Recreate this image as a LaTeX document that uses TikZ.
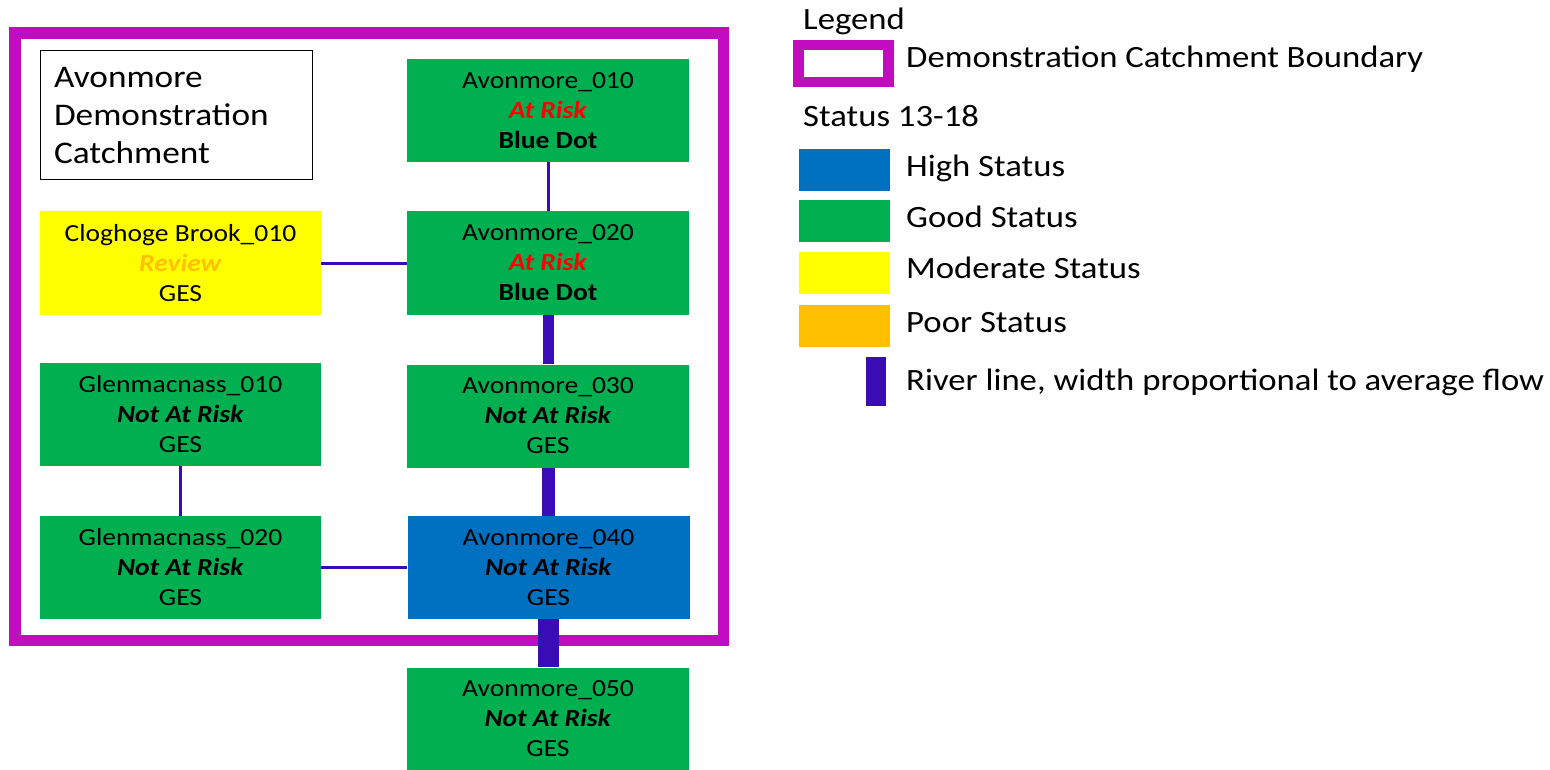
\documentclass[tikz,border=0pt]{standalone}
\usepackage{fontspec}
\setmainfont{Carlito}[FakeStretch=1.12]
\definecolor{mag}{RGB}{194,12,194}
\definecolor{river}{RGB}{58,12,182}
\definecolor{good}{RGB}{0,176,80}
\definecolor{high}{RGB}{0,112,192}
\definecolor{moderate}{RGB}{255,255,0}
\definecolor{poor}{RGB}{255,192,0}
\definecolor{atrisk}{RGB}{255,0,0}
\newcommand{\atrisk}{\textcolor{atrisk}{\textbf{\textit{At Risk}}}}
\newcommand{\notatrisk}{\textbf{\textit{Not At Risk}}}
\begin{document}
\begin{tikzpicture}[x=1pt,y=-1pt,
  wb/.style={minimum width=282pt, minimum height=103pt, inner sep=0pt, align=center,
    font=\fontsize{24.6}{30}\selectfont, text=black},
  riverthin/.style={draw=river, line width=3pt},
  riverA/.style={draw=river, line width=11pt},
  riverB/.style={draw=river, line width=13pt},
  riverC/.style={draw=river, line width=21pt},
  legtext/.style={anchor=base west, inner sep=0pt, font=\fontsize{31}{37}\selectfont},
  swatch/.style={minimum width=91pt, minimum height=42pt, inner sep=0pt},
]
\fill[white] (0,0) rectangle (1550,770);
\useasboundingbox (0,0) rectangle (1550,770);

% catchment boundary
\node[draw=mag, line width=11.5pt, minimum width=708.7pt, minimum height=607.5pt, inner sep=0pt] (catch) at (369.15,336.75) {};

% title box
\node[draw=black, line width=1pt, minimum width=272pt, minimum height=129pt, text width=244pt,
  align=left, inner sep=0pt, font=\fontsize{31.5}{38}\selectfont] (title) at (176,115.5)
  {Avonmore\\Demonstration\\Catchment};

% water bodies
\node[wb, fill=good] (a010) at (548,110.5) {Avonmore\_010\\\atrisk\\\textbf{Blue Dot}};
\node[wb, fill=good] (a020) at (548,263) {Avonmore\_020\\\atrisk\\\textbf{Blue Dot}};
\node[wb, fill=good] (a030) at (548,416) {Avonmore\_030\\\notatrisk\\GES};
\node[wb, fill=high] (a040) at (548.5,567.5) {Avonmore\_040\\\notatrisk\\GES};
\node[wb, fill=good] (a050) at (548,719) {Avonmore\_050\\\notatrisk\\GES};
\node[wb, fill=moderate, minimum width=281pt] (clog) at (180.5,263) {Cloghoge Brook\_010\\\textcolor{poor}{\textbf{\textit{Review}}}\\GES};
\node[wb, fill=good, minimum width=281pt] (g010) at (180.5,414.5) {Glenmacnass\_010\\\notatrisk\\GES};
\node[wb, fill=good, minimum width=281pt] (g020) at (180.5,567.5) {Glenmacnass\_020\\\notatrisk\\GES};

% rivers
\draw[riverthin] (a010.south) -- (a020.north);
\draw[riverthin] (clog.east) -- (a020.west);
\draw[riverthin] (g010.south) -- (g020.north);
\draw[riverthin] (g020.east) -- (a040.west);
\draw[riverA] (a020.south) -- (a030.north);
\draw[riverB] (a030.south) -- (a030.south |- a040.north);
\draw[riverC] (a050.north |- a040.south) -- (a050.north);

% legend
\node[legtext] (legtitle) at (803,30) {Legend};
\node[draw=mag, line width=10.5pt, minimum width=90pt, minimum height=37pt, inner sep=0pt, fill=white] (lbound) at (843.5,63.5) {};
\node[legtext] (lboundt) at (906,68) {Demonstration Catchment Boundary};
\node[legtext] (lstatus) at (803,127) {Status 13-18};
\node[swatch, fill=high] (lhigh) at (844.5,170) {};
\node[legtext] (lhight) at (906,177) {High Status};
\node[swatch, fill=good] (lgood) at (844.5,221.5) {};
\node[legtext] (lgoodt) at (906,228) {Good Status};
\node[swatch, fill=moderate] (lmod) at (844.5,273) {};
\node[legtext] (lmodt) at (906,278) {Moderate Status};
\node[swatch, fill=poor] (lpoor) at (844.5,325.5) {};
\node[legtext] (lpoort) at (906,332) {Poor Status};
\node[fill=river, minimum width=20pt, minimum height=49pt, inner sep=0pt] (lriver) at (876,381.5) {};
\node[legtext] (lrivert) at (906,390) {River line, width proportional to average flow};
\end{tikzpicture}
\end{document}
